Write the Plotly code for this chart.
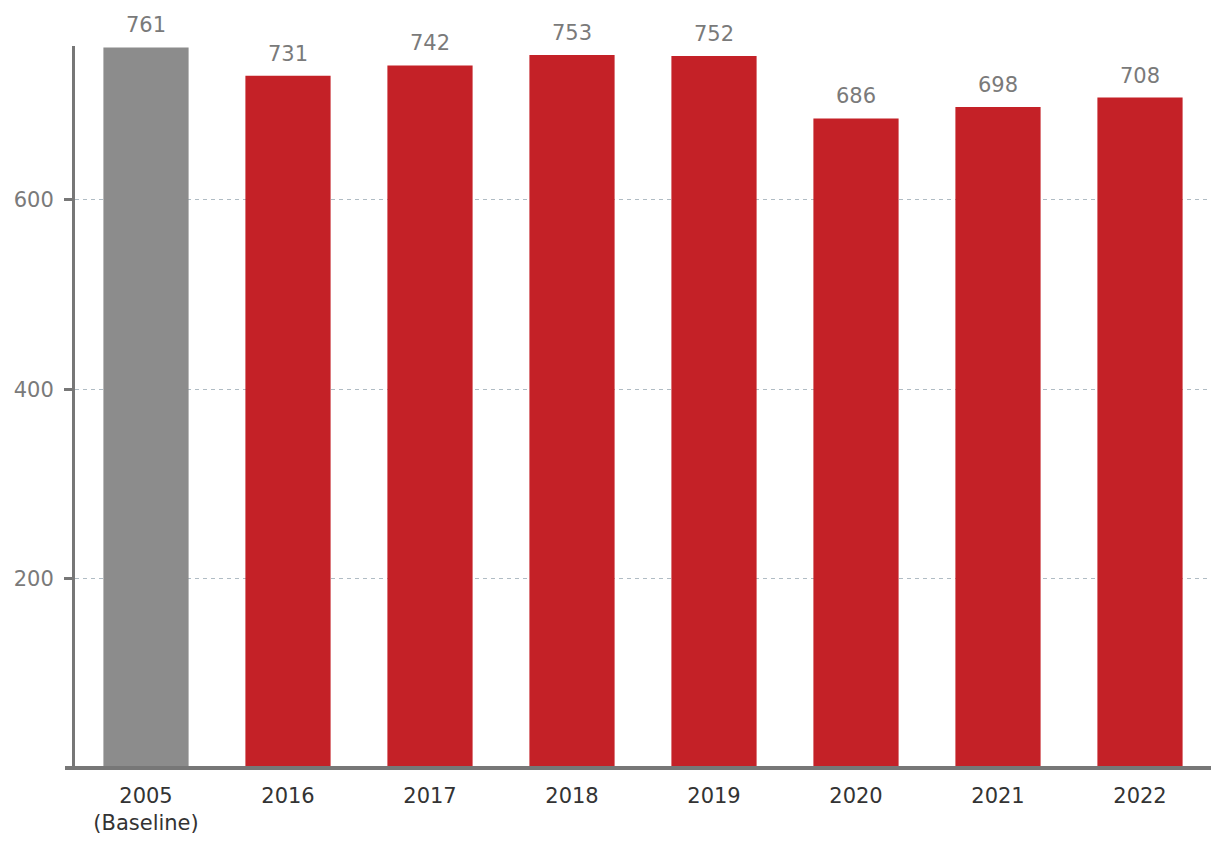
import plotly.graph_objects as go

categories = ["2005<br>(Baseline)", "2016", "2017", "2018", "2019", "2020", "2021", "2022"]
values = [761, 731, 742, 753, 752, 686, 698, 708]
bar_colors = ["#8c8c8c"] + ["#c42127"] * 7
tick_vals = [200, 400, 600]

FONT = "DejaVu Sans"

fig = go.Figure()
fig.add_trace(go.Bar(
    x=categories, y=values,
    marker=dict(color=bar_colors, line=dict(width=0)),
    width=0.6,
    hoverinfo="skip",
))

for i, v in enumerate(values):
    fig.add_annotation(x=i, y=v, text=str(v), showarrow=False,
                       yanchor="bottom", yshift=8,
                       font=dict(family=FONT, size=21, color="#7a7a7a"))

fig.add_shape(type="line", xref="paper", yref="paper",
              x0=-10/1136, x1=1, y0=0, y1=0,
              line=dict(color="#777777", width=4), layer="above")

fig.update_layout(
    width=1220, height=848,
    margin=dict(l=75, r=9, t=46, b=80),
    paper_bgcolor="white", plot_bgcolor="white",
    showlegend=False,
    bargap=0.4,
    font=dict(family=FONT),
    xaxis=dict(
        type="category",
        range=[-0.5, len(categories) - 0.5],
        showline=False, showgrid=False, zeroline=False,
        ticks="", tickfont=dict(family=FONT, size=21, color="#333333"),
        ticklabelstandoff=13,
    ),
    yaxis=dict(
        range=[0, 762.5],
        tickvals=tick_vals,
        showline=True, linecolor="#777777", linewidth=3,
        ticks="outside", ticklen=8, tickwidth=3, tickcolor="#777777",
        tickfont=dict(family=FONT, size=21, color="#7a7a7a"),
        showgrid=True, gridcolor="#b0bcc4", griddash="4px,4px", gridwidth=1,
        zeroline=False,
        ticklabelstandoff=6,
    ),
)

fig.write_html("out.html")
